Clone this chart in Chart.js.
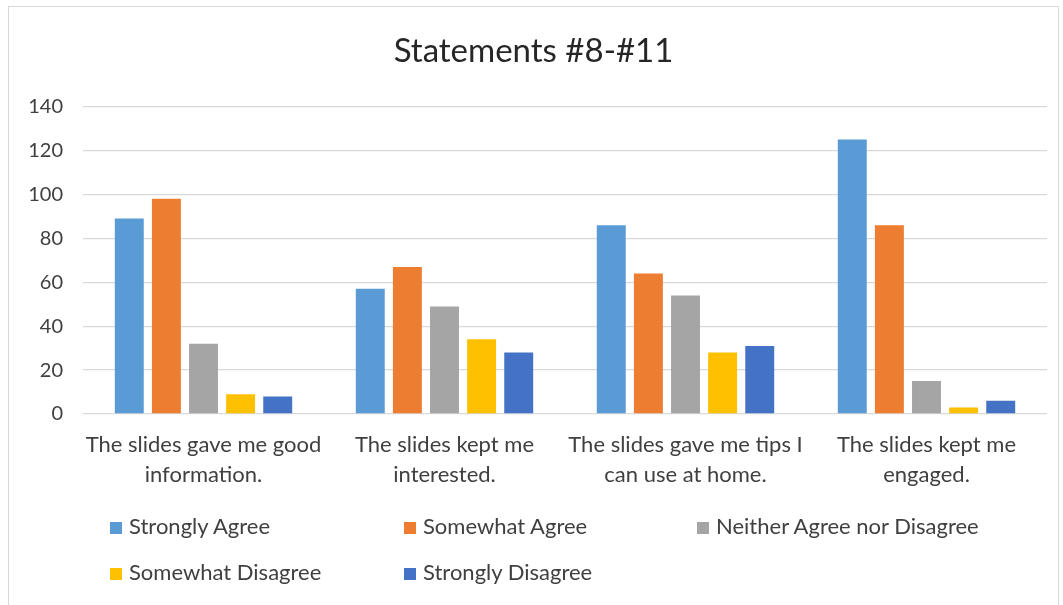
<!DOCTYPE html>
<html>
<head>
<meta charset="utf-8">
<script src="https://cdn.jsdelivr.net/npm/chart.js@4/dist/chart.umd.min.js"></script>
<style>
  html, body { margin: 0; padding: 0; background: #fff; overflow: hidden; }
  #wrap { position: relative; width: 1063px; height: 605px; }
  #frame { position: absolute; left: 8px; top: 6px; width: 1051px; height: 640px; border: 1px solid #d9d9d9; box-sizing: border-box; }
  canvas { position: absolute; left: 0; top: 0; }
  .lg { position: absolute; font-family: Lato, "Liberation Sans", sans-serif; font-size: 22px; color: #404040; white-space: nowrap; line-height: 24px; }
  .lg span { display: inline-block; width: 12px; height: 12px; margin-right: 7px; vertical-align: 0px; }
</style>
</head>
<body>
<div id="wrap">
  <div id="frame"></div>
  <canvas id="myChart" width="1063" height="605"></canvas>
  <div id="legend"></div>
</div>
<script>
const categories = [
    ["The slides gave me good", "information."],
    ["The slides kept me", "interested."],
    ["The slides gave me tips I", "can use at home."],
    ["The slides kept me", "engaged."]
];
const seriesNames = ["Strongly Agree", "Somewhat Agree", "Neither Agree nor Disagree", "Somewhat Disagree", "Strongly Disagree"];
const seriesColors = ["#5B9BD5", "#ED7D31", "#A5A5A5", "#FFC000", "#4472C4"];
const stronglyAgree = [89, 57, 86, 125];
const somewhatAgree = [98, 67, 64, 86];
const neither = [32, 49, 54, 15];
const somewhatDisagree = [9, 34, 28, 3];
const stronglyDisagree = [8, 28, 31, 6];
const seriesValues = [stronglyAgree, somewhatAgree, neither, somewhatDisagree, stronglyDisagree];

const fontFamily = 'Lato, "Liberation Sans", sans-serif';

new Chart(document.getElementById("myChart"), {
    type: 'bar',
    data: {
        labels: categories,
        datasets: seriesNames.map((name, i) => ({
            label: name,
            data: seriesValues[i],
            backgroundColor: seriesColors[i],
            categoryPercentage: 0.77,
            barPercentage: 0.78
        }))
    },
    options: {
        responsive: false,
        animation: false,
        layout: { padding: { left: 20, right: 16, top: 0, bottom: 111 } },
        plugins: {
            legend: { display: false },
            tooltip: { enabled: false },
            title: {
                display: true,
                text: 'Statements #8-#11',
                color: '#262626',
                font: { family: fontFamily, size: 33, weight: 'normal', lineHeight: 1.2 },
                padding: { top: 32, bottom: 35 }
            }
        },
        scales: {
            x: {
                grid: { display: false },
                border: { display: false },
                ticks: {
                    color: '#404040',
                    font: { family: fontFamily, size: 22, lineHeight: 1.35 },
                    padding: 8,
                    maxRotation: 0
                },
                afterFit: (scale) => { scale.height = 80; }
            },
            y: {
                min: 0,
                max: 140,
                grid: { color: '#d9d9d9', lineWidth: 1.3, drawTicks: false },
                border: { display: false },
                ticks: {
                    stepSize: 20,
                    color: '#404040',
                    font: { family: fontFamily, size: 20 },
                    padding: 20
                },
                afterFit: (scale) => { scale.width = 63; }
            }
        }
    }
});

// legend laid out in Excel's grid
const legendPos = [[110, 514], [404, 514], [697, 514], [110, 560], [404, 560]];
const legend = document.getElementById("legend");
seriesNames.forEach((name, i) => {
    const d = document.createElement("div");
    d.className = "lg";
    d.style.left = legendPos[i][0] + "px";
    d.style.top = legendPos[i][1] + "px";
    d.innerHTML = '<span style="background:' + seriesColors[i] + '"></span>' + name;
    legend.appendChild(d);
});
</script>
</body>
</html>
